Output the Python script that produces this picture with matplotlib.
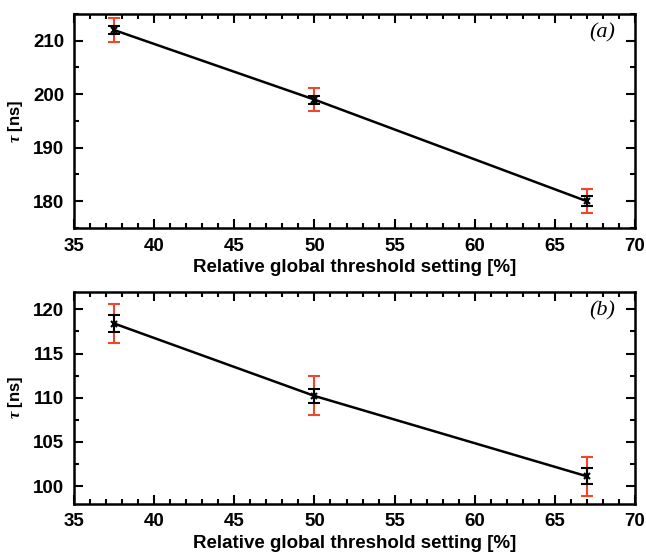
import numpy as np
import matplotlib.pyplot as plt
from matplotlib.ticker import MultipleLocator

# threshold settings (%)
thr = [37.5, 50.0, 67.0]

# panel (a)
tau_a = [212.0, 199.0, 180.0]
stat_a = [0.75, 0.75, 0.9]
sys_a = [2.2, 2.2, 2.2]

# panel (b)
tau_b = [118.4, 110.2, 101.1]
stat_b = [1.0, 0.8, 0.9]
sys_b = [2.2, 2.2, 2.2]

plt.rcParams['font.family'] = ['Liberation Sans', 'DejaVu Sans']
plt.rcParams['font.weight'] = 'bold'
plt.rcParams['mathtext.fontset'] = 'custom'
plt.rcParams['mathtext.it'] = 'Liberation Serif:italic'
plt.rcParams['mathtext.rm'] = 'Liberation Serif'

fig = plt.figure(figsize=(6.46, 5.53), dpi=100)
ax1 = fig.add_axes([0.1146, 0.5877, 0.8684, 0.387])
ax2 = fig.add_axes([0.1146, 0.0892, 0.8684, 0.3833])


def panel(ax, y, es, esys, ylim, ymaj, ymin, tag):
    ax.errorbar(thr, y, yerr=esys, fmt='none', ecolor='#f0462a',
                elinewidth=1.5, capsize=4, capthick=1.5, zorder=2)
    ax.errorbar(thr, y, yerr=es, fmt='none', ecolor='black',
                elinewidth=1.5, capsize=4, capthick=1.5, zorder=3)
    ax.plot(thr, y, color='black', linewidth=1.8, marker='x',
            markersize=5, markeredgewidth=1.5, zorder=4)
    ax.set_xlim(35, 70)
    ax.set_ylim(*ylim)
    ax.xaxis.set_major_locator(MultipleLocator(5))
    ax.xaxis.set_minor_locator(MultipleLocator(1))
    ax.yaxis.set_major_locator(MultipleLocator(ymaj))
    ax.yaxis.set_minor_locator(MultipleLocator(ymin))
    ax.tick_params(which='both', direction='in', top=True, right=True,
                   width=1.5, labelsize=13.5, pad=7)
    ax.tick_params(which='major', length=6.5)
    ax.tick_params(which='minor', length=3.5)
    for s in ax.spines.values():
        s.set_linewidth(1.8)
    for lab in ax.get_xticklabels() + ax.get_yticklabels():
        lab.set_fontweight('bold')
    ax.set_xlabel('Relative global threshold setting [%]', fontsize=13.5,
                  fontweight='bold', labelpad=3)
    ax.set_ylabel(r'$\tau$ [ns]', fontsize=12, fontweight='bold')
    ax.yaxis.set_label_coords(-0.088, 0.5)
    ax.text(0.965, 0.91, tag, transform=ax.transAxes, ha='right', va='center',
            fontsize=16, family='Liberation Serif', style='italic', fontweight='normal')


panel(ax1, tau_a, stat_a, sys_a, (175, 215), 10, 5, '(a)')
panel(ax2, tau_b, stat_b, sys_b, (98, 122), 5, 2.5, '(b)')

fig.savefig('out.png', dpi=100)
